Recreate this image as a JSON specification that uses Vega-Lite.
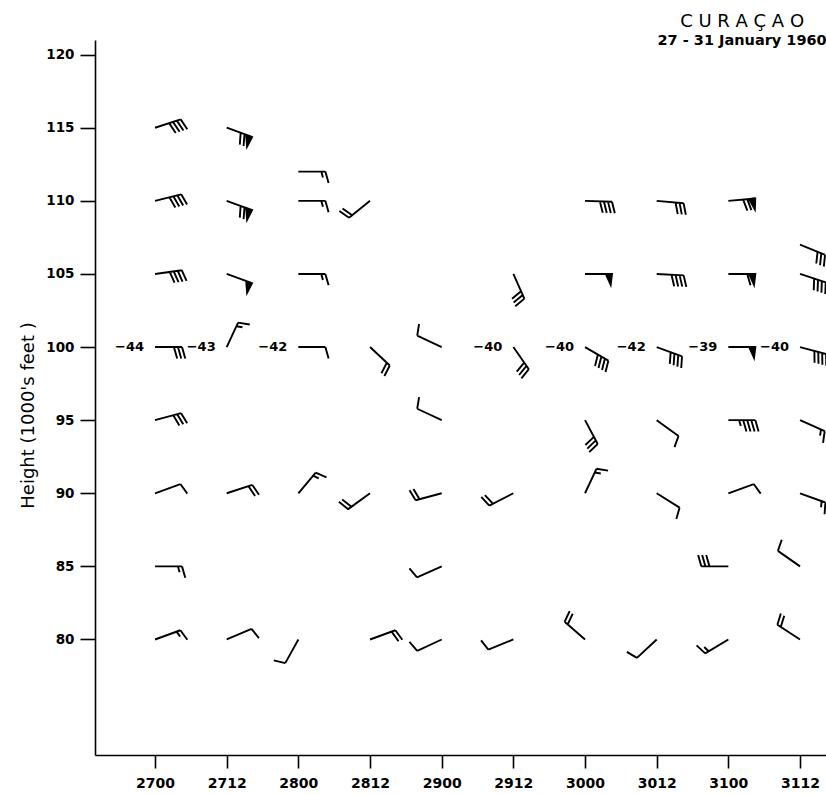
{
  "$schema": "https://vega.github.io/schema/vega-lite/v6.json",
  "width": 731,
  "height": 715,
  "autosize": {"type": "none"},
  "padding": {"left": 95, "top": 40, "right": 0, "bottom": 39},
  "background": "white",
  "config": {"view": {"stroke": null}, "font": "DejaVu Sans"},
  "title": {
    "text": "C U R A Ç A O",
    "subtitle": "27 - 31 January 1960",
    "anchor": "end",
    "align": "center",
    "dx": -88,
    "offset": -7,
    "font": "DejaVu Sans",
    "fontSize": 18,
    "fontWeight": "normal",
    "color": "black",
    "subtitleFont": "DejaVu Sans",
    "subtitleFontSize": 14.5,
    "subtitleFontWeight": "bold",
    "subtitleColor": "black",
    "subtitlePadding": 3
  },
  "data": {
    "values": [
      {"time": "1960-01-27T00:00:00Z", "height": 115, "direction": 72, "speed": 40},
      {"time": "1960-01-27T00:00:00Z", "height": 110, "direction": 76, "speed": 40},
      {"time": "1960-01-27T00:00:00Z", "height": 105, "direction": 82, "speed": 40},
      {"time": "1960-01-27T00:00:00Z", "height": 100, "direction": 90, "speed": 30, "temp": -44},
      {"time": "1960-01-27T00:00:00Z", "height": 95, "direction": 75, "speed": 30},
      {"time": "1960-01-27T00:00:00Z", "height": 90, "direction": 70, "speed": 10},
      {"time": "1960-01-27T00:00:00Z", "height": 85, "direction": 90, "speed": 15},
      {"time": "1960-01-27T00:00:00Z", "height": 80, "direction": 70, "speed": 15},
      {"time": "1960-01-27T12:00:00Z", "height": 115, "direction": 110, "speed": 70},
      {"time": "1960-01-27T12:00:00Z", "height": 110, "direction": 110, "speed": 70},
      {"time": "1960-01-27T12:00:00Z", "height": 105, "direction": 110, "speed": 50},
      {"time": "1960-01-27T12:00:00Z", "height": 100, "direction": 25, "speed": 15, "temp": -43},
      {"time": "1960-01-27T12:00:00Z", "height": 90, "direction": 72, "speed": 20},
      {"time": "1960-01-27T12:00:00Z", "height": 80, "direction": 67, "speed": 10},
      {"time": "1960-01-28T00:00:00Z", "height": 112, "direction": 90, "speed": 15},
      {"time": "1960-01-28T00:00:00Z", "height": 110, "direction": 90, "speed": 15},
      {"time": "1960-01-28T00:00:00Z", "height": 105, "direction": 90, "speed": 15},
      {"time": "1960-01-28T00:00:00Z", "height": 100, "direction": 90, "speed": 10, "temp": -42},
      {"time": "1960-01-28T00:00:00Z", "height": 90, "direction": 40, "speed": 15},
      {"time": "1960-01-28T00:00:00Z", "height": 80, "direction": 209, "speed": 10},
      {"time": "1960-01-28T12:00:00Z", "height": 110, "direction": 231, "speed": 20},
      {"time": "1960-01-28T12:00:00Z", "height": 100, "direction": 133, "speed": 20},
      {"time": "1960-01-28T12:00:00Z", "height": 90, "direction": 234, "speed": 20},
      {"time": "1960-01-28T12:00:00Z", "height": 80, "direction": 70, "speed": 20},
      {"time": "1960-01-29T00:00:00Z", "height": 100, "direction": 295, "speed": 10},
      {"time": "1960-01-29T00:00:00Z", "height": 95, "direction": 295, "speed": 10},
      {"time": "1960-01-29T00:00:00Z", "height": 90, "direction": 255, "speed": 20},
      {"time": "1960-01-29T00:00:00Z", "height": 85, "direction": 246, "speed": 10},
      {"time": "1960-01-29T00:00:00Z", "height": 80, "direction": 245, "speed": 10},
      {"time": "1960-01-29T12:00:00Z", "height": 105, "direction": 156, "speed": 30},
      {"time": "1960-01-29T12:00:00Z", "height": 100, "direction": 145, "speed": 30, "temp": -40},
      {"time": "1960-01-29T12:00:00Z", "height": 90, "direction": 243, "speed": 20},
      {"time": "1960-01-29T12:00:00Z", "height": 80, "direction": 248, "speed": 10},
      {"time": "1960-01-30T00:00:00Z", "height": 110, "direction": 92, "speed": 40},
      {"time": "1960-01-30T00:00:00Z", "height": 105, "direction": 90, "speed": 50},
      {"time": "1960-01-30T00:00:00Z", "height": 100, "direction": 120, "speed": 40, "temp": -40},
      {"time": "1960-01-30T00:00:00Z", "height": 95, "direction": 152, "speed": 30},
      {"time": "1960-01-30T00:00:00Z", "height": 90, "direction": 25, "speed": 15},
      {"time": "1960-01-30T00:00:00Z", "height": 80, "direction": 311, "speed": 20},
      {"time": "1960-01-30T12:00:00Z", "height": 110, "direction": 95, "speed": 30},
      {"time": "1960-01-30T12:00:00Z", "height": 105, "direction": 93, "speed": 40},
      {"time": "1960-01-30T12:00:00Z", "height": 100, "direction": 110, "speed": 40, "temp": -42},
      {"time": "1960-01-30T12:00:00Z", "height": 95, "direction": 126, "speed": 10},
      {"time": "1960-01-30T12:00:00Z", "height": 90, "direction": 122, "speed": 10},
      {"time": "1960-01-30T12:00:00Z", "height": 80, "direction": 227, "speed": 10},
      {"time": "1960-01-31T00:00:00Z", "height": 110, "direction": 85, "speed": 70},
      {"time": "1960-01-31T00:00:00Z", "height": 105, "direction": 90, "speed": 60},
      {"time": "1960-01-31T00:00:00Z", "height": 100, "direction": 90, "speed": 50, "temp": -39},
      {"time": "1960-01-31T00:00:00Z", "height": 95, "direction": 90, "speed": 45},
      {"time": "1960-01-31T00:00:00Z", "height": 90, "direction": 70, "speed": 10},
      {"time": "1960-01-31T00:00:00Z", "height": 85, "direction": 270, "speed": 30},
      {"time": "1960-01-31T00:00:00Z", "height": 80, "direction": 239, "speed": 15},
      {"time": "1960-01-31T12:00:00Z", "height": 107, "direction": 112, "speed": 30},
      {"time": "1960-01-31T12:00:00Z", "height": 105, "direction": 108, "speed": 40},
      {"time": "1960-01-31T12:00:00Z", "height": 100, "direction": 105, "speed": 40, "temp": -40},
      {"time": "1960-01-31T12:00:00Z", "height": 95, "direction": 114, "speed": 15},
      {"time": "1960-01-31T12:00:00Z", "height": 90, "direction": 110, "speed": 15},
      {"time": "1960-01-31T12:00:00Z", "height": 85, "direction": 305, "speed": 10},
      {"time": "1960-01-31T12:00:00Z", "height": 80, "direction": 303, "speed": 20}
    ]
  },
  "encoding": {
    "x": {
      "field": "time",
      "type": "temporal",
      "scale": {
        "type": "utc",
        "domain": [
          {"year": 1960, "month": 1, "date": 26, "hours": 13, "minutes": 57, "utc": true},
          {"year": 1960, "month": 1, "date": 31, "hours": 16, "minutes": 21, "utc": true}
        ]
      },
      "axis": {
        "title": null,
        "values": [
          {"year": 1960, "month": 1, "date": 27, "hours": 0, "utc": true},
          {"year": 1960, "month": 1, "date": 27, "hours": 12, "utc": true},
          {"year": 1960, "month": 1, "date": 28, "hours": 0, "utc": true},
          {"year": 1960, "month": 1, "date": 28, "hours": 12, "utc": true},
          {"year": 1960, "month": 1, "date": 29, "hours": 0, "utc": true},
          {"year": 1960, "month": 1, "date": 29, "hours": 12, "utc": true},
          {"year": 1960, "month": 1, "date": 30, "hours": 0, "utc": true},
          {"year": 1960, "month": 1, "date": 30, "hours": 12, "utc": true},
          {"year": 1960, "month": 1, "date": 31, "hours": 0, "utc": true},
          {"year": 1960, "month": 1, "date": 31, "hours": 12, "utc": true}
        ],
        "labelExpr": "utcFormat(datum.value, '%d%H')",
        "grid": false,
        "domainColor": "black",
        "domainWidth": 1.6,
        "tickColor": "black",
        "tickWidth": 1.6,
        "tickSize": 13,
        "labelFont": "DejaVu Sans",
        "labelFontSize": 14,
        "labelFontWeight": "bold",
        "labelColor": "black",
        "labelPadding": 8,
        "labelFlush": false,
        "labelOverlap": false
      }
    },
    "y": {
      "field": "height",
      "type": "quantitative",
      "scale": {"domain": [72.1, 121], "nice": false, "zero": false},
      "axis": {
        "title": "Height (1000's feet )",
        "values": [80, 85, 90, 95, 100, 105, 110, 115, 120],
        "grid": false,
        "domainColor": "black",
        "domainWidth": 1.6,
        "tickColor": "black",
        "tickWidth": 1.6,
        "tickSize": 15,
        "labelFont": "DejaVu Sans",
        "labelFontSize": 13.5,
        "labelFontWeight": "bold",
        "labelColor": "black",
        "labelPadding": 6,
        "titleFont": "DejaVu Sans",
        "titleFontSize": 18,
        "titleFontWeight": "normal",
        "titleColor": "black",
        "titleX": -67,
        "titleY": 375,
        "titleAngle": -90,
        "titleAlign": "center",
        "titleBaseline": "middle"
      }
    }
  },
  "layer": [
    {
      "mark": {
        "type": "point",
        "filled": true,
        "fill": "black",
        "stroke": "black",
        "strokeWidth": 1.9,
        "opacity": 1,
        "size": 2916
      },
      "encoding": {
        "shape": {
          "field": "speed",
          "type": "ordinal",
          "legend": null,
          "scale": {
            "domain": [10, 15, 20, 25, 30, 35, 40, 45, 50, 60, 70],
            "range": [
              "M0,0L0,-1M0,-1L0.42,-1.12",
              "M0,0L0,-1M0,-1L0.42,-1.12M0,-0.85L0.22,-0.91",
              "M0,0L0,-1M0,-1L0.42,-1.12M0,-0.85L0.42,-0.97",
              "M0,0L0,-1M0,-1L0.42,-1.12M0,-0.85L0.42,-0.97M0,-0.7L0.22,-0.76",
              "M0,0L0,-1M0,-1L0.42,-1.12M0,-0.85L0.42,-0.97M0,-0.7L0.42,-0.82",
              "M0,0L0,-1M0,-1L0.42,-1.12M0,-0.85L0.42,-0.97M0,-0.7L0.42,-0.82M0,-0.55L0.22,-0.61",
              "M0,0L0,-1M0,-1L0.42,-1.12M0,-0.85L0.42,-0.97M0,-0.7L0.42,-0.82M0,-0.55L0.42,-0.67",
              "M0,0L0,-1M0,-1L0.42,-1.12M0,-0.85L0.42,-0.97M0,-0.7L0.42,-0.82M0,-0.55L0.42,-0.67M0,-0.4L0.22,-0.46",
              "M0,0L0,-1M0,-1L0.4,-0.95L0,-0.77Z",
              "M0,0L0,-1M0,-1L0.4,-0.95L0,-0.77ZM0,-0.7L0.42,-0.82",
              "M0,0L0,-1M0,-1L0.4,-0.95L0,-0.77ZM0,-0.7L0.42,-0.82M0,-0.55L0.42,-0.67"
            ]
          }
        },
        "angle": {"field": "direction", "type": "quantitative", "scale": null}
      }
    },
    {
      "transform": [{"filter": "isValid(datum.temp)"}],
      "mark": {
        "type": "text",
        "align": "right",
        "baseline": "middle",
        "dx": -11,
        "font": "DejaVu Sans",
        "fontSize": 13,
        "fontWeight": "bold",
        "color": "black"
      },
      "encoding": {
        "text": {"field": "temp", "type": "quantitative"}
      }
    }
  ]
}
